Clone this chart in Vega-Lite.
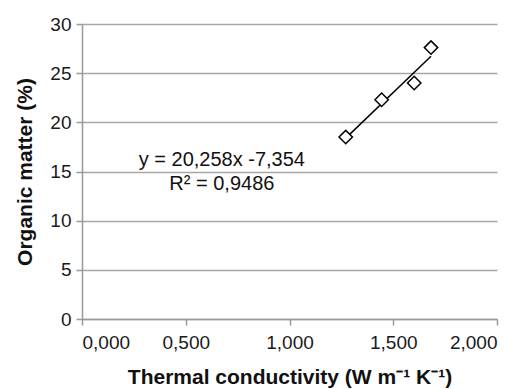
{
  "$schema": "https://vega.github.io/schema/vega-lite/v6.json",
  "width": 415,
  "height": 295,
  "autosize": {"type": "none"},
  "padding": {"left": 82, "top": 24, "right": 33, "bottom": 70},
  "background": "white",
  "config": {
    "view": {"stroke": null},
    "font": "Liberation Sans",
    "axis": {
      "labelFont": "Liberation Sans",
      "titleFont": "Liberation Sans",
      "labelFontSize": 19,
      "titleFontSize": 21,
      "titleFontWeight": "bold",
      "labelColor": "#1a1a1a",
      "titleColor": "#111111",
      "domainColor": "#9a9a9a",
      "tickColor": "#9a9a9a",
      "gridColor": "#a6a6a6",
      "domainWidth": 1.5,
      "tickWidth": 1.5,
      "gridWidth": 1.5
    }
  },
  "datasets": {
    "points": [
      {"tc": 1.271, "om": 18.5},
      {"tc": 1.444, "om": 22.3},
      {"tc": 1.601, "om": 24.0},
      {"tc": 1.682, "om": 27.6}
    ],
    "trend": [
      {"tc": 1.271, "om": 18.39},
      {"tc": 1.682, "om": 26.72}
    ],
    "label": [
      {"tc": 0.674, "om": 15.6, "txt": "y = 20,258x -7,354\nR² = 0,9486"}
    ]
  },
  "encoding": {
    "x": {
      "field": "tc",
      "type": "quantitative",
      "scale": {"domain": [0, 2], "nice": false, "zero": false},
      "axis": {
        "values": [0, 0.5, 1, 1.5, 2],
        "grid": false,
        "tickSize": 6,
        "labelPadding": 8,
        "labelExpr": "replace(format(datum.value, '.3f'), '.', ',')",
        "title": "Thermal conductivity (W m⁻¹ K⁻¹)",
        "titlePadding": 14
      }
    },
    "y": {
      "field": "om",
      "type": "quantitative",
      "scale": {"domain": [0, 30], "nice": false},
      "axis": {
        "values": [0, 5, 10, 15, 20, 25, 30],
        "grid": true,
        "tickSize": 6,
        "labelPadding": 5,
        "title": "Organic matter (%)",
        "titlePadding": 14
      }
    }
  },
  "layer": [
    {
      "data": {"name": "trend"},
      "mark": {"type": "line", "color": "black", "strokeWidth": 1.5}
    },
    {
      "data": {"name": "points"},
      "mark": {"type": "point", "shape": "diamond", "filled": true, "fill": "white", "stroke": "black", "strokeWidth": 1.5, "size": 180, "opacity": 1}
    },
    {
      "data": {"name": "label"},
      "mark": {"type": "text", "fontSize": 20, "color": "#111111", "align": "center", "baseline": "alphabetic", "lineBreak": "\n", "lineHeight": 24},
      "encoding": {"text": {"field": "txt"}}
    }
  ]
}
